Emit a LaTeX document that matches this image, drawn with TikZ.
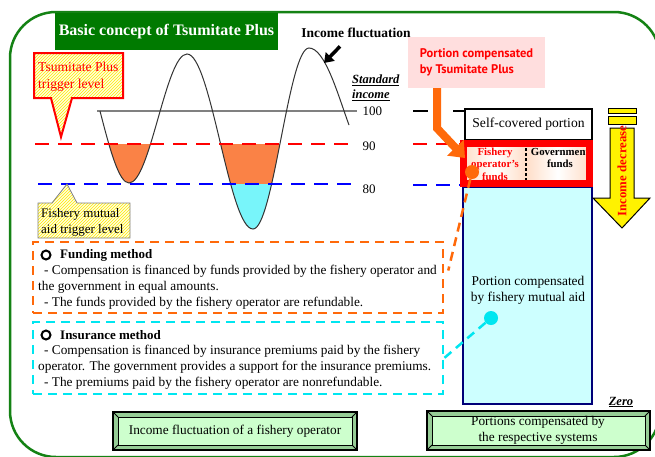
\documentclass[tikz,border=0pt]{standalone}
\usepackage{fontspec}
\setmainfont{Liberation Serif}
\newfontfamily\notefont{PT Sans}
\usetikzlibrary{arrows.meta,patterns,positioning}

\definecolor{framegreen}{RGB}{20,130,20}
\definecolor{titlegreen}{RGB}{0,122,0}
\definecolor{tsorange}{RGB}{250,130,70}
\definecolor{aidcyan}{RGB}{120,245,250}
\definecolor{boxcyan}{RGB}{205,255,255}
\definecolor{dashorange}{RGB}{255,105,10}
\definecolor{dashcyan}{RGB}{0,230,240}
\definecolor{pinkbg}{RGB}{255,222,222}
\definecolor{navyline}{RGB}{0,0,120}
\definecolor{bevelout}{RGB}{150,205,150}
\definecolor{bevelin}{RGB}{205,255,205}
\definecolor{peach}{RGB}{255,222,200}

\newcommand{\wavepath}{(100,111) .. controls (110,150) and (119,183) .. (129,183) cos (158,118.5) sin (187,54) cos (220,141.5) sin (253,229) cos (281,138.5) sin (309,48) .. controls (325,48) and (338,95) .. (349,125)}

\tikzset{
  level/.style={line width=2.5pt, dash pattern=on 14pt off 9pt},
  callout/.style={preaction={fill=yellow!12}, pattern=north east lines, pattern color=yellow!85!orange},
  body/.style={anchor=west, inner sep=0pt, font=\fontsize{13.3}{15}\selectfont},
  head/.style={anchor=west, inner sep=0pt, font=\fontsize{13}{15}\bfseries\selectfont},
  methodframe/.style={line width=2.5pt, dash pattern=on 9pt off 6pt, minimum width=410pt, inner sep=0pt},
  bevelouter/.style={draw=black, line width=1.5pt, fill=bevelout},
  bevelinner/.style={draw=black, line width=0.8pt, fill=bevelin},
}

\begin{document}
\begin{tikzpicture}[x=1pt,y=-1pt]
  \useasboundingbox (0,0) rectangle (655,456);
  \fill[white] (0,0) rectangle (655,456);
  \draw[framegreen, line width=2.5pt, rounded corners=46pt] (10,12) rectangle (660,457); % outer frame
  \node[fill=titlegreen, text=white, minimum width=223pt, minimum height=37pt, font=\fontsize{16}{18}\bfseries\selectfont] (title) at (166.5,31.5) {Basic concept of Tsumitate Plus};

  % income wave
  \begin{scope}
    \clip \wavepath -- (349,0) -- (100,0) -- cycle;
    \fill[tsorange] (90,144) rectangle (360,184);
    \fill[aidcyan] (90,184) rectangle (360,250);
  \end{scope}
  \draw[gray, line width=1.5pt] (97,111) -- (357,111); % standard income
  \draw[black!80, line width=1pt] \wavepath; % income fluctuation
  \draw[red, level] (35,144) -- (355,144); % 90
  \draw[blue, level] (38,184) -- (360,184); % 80

  \node[anchor=west, font=\fontsize{13}{15}\selectfont] (l100) at (359,111) {100};
  \node[anchor=west, font=\fontsize{13}{15}\selectfont] (l90) at (359,146) {90};
  \node[anchor=west, font=\fontsize{13}{15}\selectfont] (l80) at (359,189) {80};
  \node[anchor=west, align=left, inner sep=0pt, font=\fontsize{12.5}{15}\bfseries\itshape\selectfont] (stdinc) at (352,88) {\underline{Standard}\\\underline{income}};

  \node[font=\fontsize{13.5}{15}\bfseries\selectfont] (flabel) at (356,33) {Income fluctuation};
  \coordinate (wavept) at (324,63);
  \draw[line width=3.5pt, -{Triangle[length=9pt,width=12pt]}] ([xshift=-16pt,yshift=-5pt]flabel.south) -- (wavept);

  % trigger callouts
  \draw[red, line width=2pt, callout] (34,53) -- (123,53) -- (123,98) -- (72,98) -- (61,137) -- (51,98) -- (34,98) -- cycle;
  \node[anchor=west, align=left, inner sep=0pt, text=red, font=\fontsize{13.6}{17}\selectfont] (tstrig) at (38,76.5) {Tsumitate Plus\\trigger level};
  \draw[gray, line width=0.8pt, callout] (38,203) -- (52,203) -- (67,184) -- (77,203) -- (130,203) -- (130,238) -- (38,238) -- cycle;
  \node[anchor=west, align=left, inner sep=0pt, font=\fontsize{13}{16}\selectfont] (aidtrig) at (41,222) {Fishery mutual\\aid trigger level};

  % right column
  \draw[black, level, dash pattern=on 15pt off 25pt] (413,111) -- (466,111);
  \draw[red, level] (413,144) -- (462,144);
  \draw[blue, level] (413,185) -- (462,185);
  \node[draw=navyline, line width=2pt, fill=boxcyan, minimum width=129pt, minimum height=217pt] (aidbox) at (527.5,295.5) {};
  \node[align=center, font=\fontsize{13.4}{16}\selectfont] (aidtext) at (528,290) {Portion compensated\\by fishery mutual aid};
  \node[draw=black, line width=1.5pt, fill=white, minimum width=127pt, minimum height=31pt, font=\fontsize{13.6}{15}\selectfont] (selfbox) at (528.5,124.5) {Self-covered portion};
  \shade[left color=peach, right color=peach, middle color=white] (463.5,143.5) rectangle (526,183.5);
  \shade[left color=peach, right color=peach, middle color=white] (526,143.5) rectangle (589.5,183.5);
  \node[align=center, inner sep=0pt, text=red, font=\fontsize{10.8}{12.5}\bfseries\selectfont] (opfunds) at (495,164) {Fishery\\operator's\\funds};
  \node[align=center, inner sep=0pt, font=\fontsize{10.8}{12.5}\bfseries\selectfont] (govfunds) at (560,158) {Government\\funds};
  \draw[black, line width=1.5pt, dash pattern=on 3pt off 2pt] (526,148) -- (526,180);
  \draw[red, line width=7pt] (463.5,143.5) rectangle (589.5,183.5); % Tsumitate Plus portion

  \node[fill=pinkbg, text=red, inner sep=4pt, minimum width=137pt, minimum height=51pt, align=left, font=\notefont\fontsize{12.5}{16}\bfseries\selectfont] (tsbox) at (476.5,62.5) {Portion compensated\\by Tsumitate Plus};
  \draw[dashorange, line width=8pt, -{Triangle[length=14pt,width=22pt]}] ([xshift=-39.5pt]tsbox.south) -- ++(0,40) -- (465,158);

  % income decrease arrow
  \draw[black, fill=yellow, line width=1pt] (608,108) rectangle (636,113);
  \draw[black, fill=yellow, line width=1pt] (608,116) rectangle (636,124);
  \draw[black, fill=yellow, line width=1pt] (610,128) -- (634,128) -- (634,198) -- (650,198) -- (622,228) -- (593,198) -- (610,198) -- cycle;
  \node[rotate=90, text=red, inner sep=0pt, font=\fontsize{12.8}{14}\bfseries\selectfont] (decr) at (622,171) {Income decrease};

  % methods
  \node[draw=dashorange, methodframe, minimum height=71pt] (fund) at (238,277.5) {};
  \draw[line width=2pt] (46,255) circle (4.5);
  \node[head] (fundhead) at (60,255) {Funding method};
  \node[body] (fund1) at (44,271) {- Compensation is financed by funds provided by the fishery operator and};
  \node[body] (fund2) at (38,287) {the government in equal amounts.};
  \node[body] (fund3) at (44,303) {- The funds provided by the fishery operator are refundable.};

  \node[draw=dashcyan, methodframe, minimum height=72pt] (insur) at (238,358) {};
  \draw[line width=2pt] (46,335) circle (4.5);
  \node[head] (insurhead) at (60,335) {Insurance method};
  \node[body] (insur1) at (44,351) {- Compensation is financed by insurance premiums paid by the fishery};
  \node[body] (insur2) at (38,367) {operator. The government provides a support for the insurance premiums.};
  \node[body] (insur3) at (44,383) {- The premiums paid by the fishery operator are nonrefundable.};

  \node[circle, fill=dashorange, minimum size=14pt, inner sep=0pt] (odot) at (472,172) {};
  \node[circle, fill=dashcyan, minimum size=14pt, inner sep=0pt] (cdot) at (491,318) {};
  \draw[dashorange, line width=2.5pt, dash pattern=on 9pt off 6pt] (odot) -- ([xshift=4pt,yshift=7pt]fund.east);
  \draw[dashcyan, line width=2.5pt, dash pattern=on 9pt off 6pt] (cdot) -- (insur.east);

  % bottom labels
  \draw[bevelouter] (113,412) rectangle (357,450);
  \draw[bevelinner] (118,417) rectangle (352,445);
  \draw[line width=0.8pt] (113,412) -- (118,417) (357,412) -- (352,417) (113,450) -- (118,445) (357,450) -- (352,445);
  \node[font=\fontsize{13.3}{15}\selectfont] (fluct) at (235,431) {Income fluctuation of a fishery operator};

  \draw[bevelouter] (427,411) rectangle (650,450);
  \draw[bevelinner] (432,416) rectangle (645,445);
  \draw[line width=0.8pt] (427,411) -- (432,416) (650,411) -- (645,416) (427,450) -- (432,445) (650,450) -- (645,445);
  \node[align=center, font=\fontsize{13.3}{16}\selectfont] (portions) at (538,430) {Portions compensated by\\the respective systems};
  \node[font=\fontsize{12.5}{14}\bfseries\itshape\selectfont] (zero) at (621,402) {\underline{Zero}};
\end{tikzpicture}
\end{document}
